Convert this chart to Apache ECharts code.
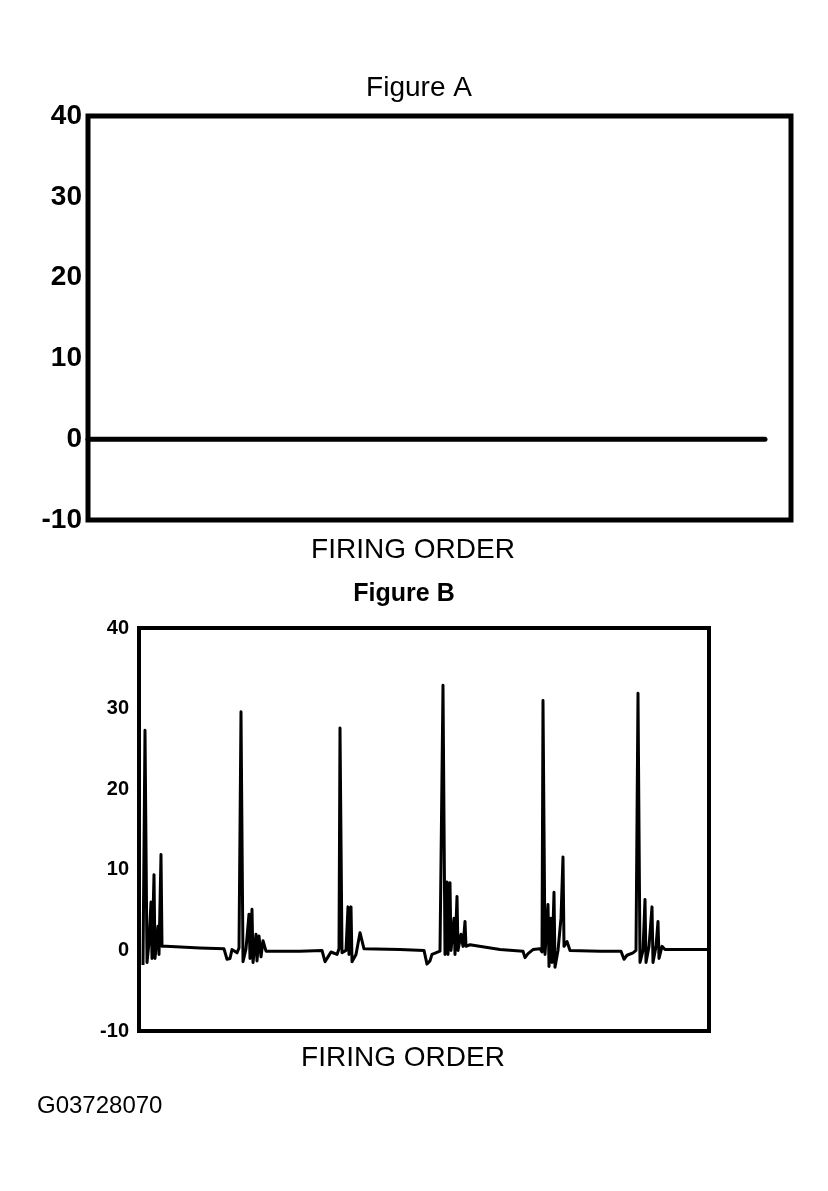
<!DOCTYPE html>
<html>
<head>
<meta charset="utf-8">
<script src="https://cdn.jsdelivr.net/npm/echarts@6/dist/echarts.min.js"></script>
<style>
  html, body { margin: 0; padding: 0; background: #fff; }
  #chart { width: 828px; height: 1191px; }
</style>
</head>
<body>
<div id="chart"></div>
<script>
// y axis (kV) ticks shared by both figures
var yTicks = [-10, 0, 10, 20, 30, 40];

// Figure A: flat line at zero across the firing order
var timeA = [0, 96.3];
var voltsA = [0, 0];

// Figure B: secondary ignition trace, time in sample units
var timeB = [4, 6, 8, 10, 12, 13, 15, 16, 19, 20, 22, 23, 27, 61, 85, 88, 91, 93, 98, 100,
    102, 104, 107, 110, 111, 113, 114, 117, 118, 120, 122, 124, 127, 161, 183, 186, 189, 192, 198, 200,
    201, 203, 207, 209, 210, 212, 213, 217, 221, 225, 261, 285, 288, 291, 293, 301, 304, 306, 308, 309,
    311, 312, 315, 316, 318, 319, 322, 324, 326, 327, 331, 361, 384, 386, 389, 394, 401, 403, 404, 406,
    409, 410, 412, 413, 415, 416, 419, 422, 424, 425, 428, 431, 461, 482, 485, 488, 494, 497, 499, 501,
    504, 506, 507, 510, 513, 514, 517, 519, 520, 523, 526, 569];
var voltsB = [-1.8, 27.3, -1.5, 1, 6, -1, 9.4, -1, 3, -0.5, 11.9, 0.5, 0.5, 0.3, 0.2, -1.1, -1.0, 0.1, -0.3, 0.3,
    29.6, -1.4, 0.2, 4.5, -1, 5.1, -1.5, 2, -1.3, 1.8, -0.8, 1.2, -0.1, -0.1, 0, -1.4, -0.8, -0.2, -0.5, 0.2,
    27.6, -0.3, 0, 5.4, -0.5, 5.4, -1.4, -0.5, 2.2, 0.2, 0.1, 0, -1.7, -1.3, -0.5, -0.1, 32.9, -0.5, 8.5, -0.5,
    8.4, 0, 4, -0.5, 6.7, 0, 2, 0.5, 3.6, 0.5, 0.7, 0.1, -0.1, -0.9, -0.4, 0.1, 0.2, -0.2, 31, -0.5,
    5.7, -2, 4, -1.5, 7.2, -2.1, 0, 4, 11.6, 0.5, 1.1, 0, -0.1, -0.1, -1.1, -0.6, -0.3, 0, 31.9, -1.5,
    0, 6.3, -1.5, 0.5, 5.4, -1.5, 0.5, 3.6, -1, 0.5, 0.1, 0.1];

function pairs(xs, ys) {
    var out = [];
    for (var i = 0; i < xs.length; i++) out.push([xs[i], ys[i]]);
    return out;
}

var font = 'Liberation Sans';
var myChart = echarts.init(document.getElementById('chart'));
var option = {
    backgroundColor: '#fff',
    animation: false,
    title: [
        { text: 'Figure A', left: 419, top: 74, textAlign: 'center', padding: 0,
          textStyle: { fontFamily: font, fontSize: 28, fontWeight: 'normal', color: '#000' } },
        { text: 'FIRING ORDER', left: 413, top: 536, textAlign: 'center', padding: 0,
          textStyle: { fontFamily: font, fontSize: 28, fontWeight: 'normal', color: '#000' } },
        { text: 'Figure B', left: 404, top: 582, textAlign: 'center', padding: 0,
          textStyle: { fontFamily: font, fontSize: 25, fontWeight: 'bold', color: '#000' } },
        { text: 'FIRING ORDER', left: 403, top: 1044, textAlign: 'center', padding: 0,
          textStyle: { fontFamily: font, fontSize: 28, fontWeight: 'normal', color: '#000' } },
        { text: 'G03728070', left: 37, top: 1094, padding: 0,
          textStyle: { fontFamily: font, fontSize: 24, fontWeight: 'normal', color: '#000' } }
    ],
    grid: [
        { left: 88, top: 116, width: 703, height: 404, show: true,
          borderColor: '#000', borderWidth: 5, backgroundColor: 'transparent' },
        { left: 139, top: 628, width: 570, height: 403, show: true,
          borderColor: '#000', borderWidth: 4, backgroundColor: 'transparent' }
    ],
    xAxis: [
        { gridIndex: 0, type: 'value', min: 0, max: 100,
          axisLine: { show: false }, axisTick: { show: false },
          axisLabel: { show: false }, splitLine: { show: false } },
        { gridIndex: 1, type: 'value', min: 0, max: 570,
          axisLine: { show: false }, axisTick: { show: false },
          axisLabel: { show: false }, splitLine: { show: false } }
    ],
    yAxis: [
        { gridIndex: 0, type: 'value', min: yTicks[0], max: yTicks[yTicks.length - 1], interval: 10,
          axisLine: { show: false }, axisTick: { show: false }, splitLine: { show: false },
          axisLabel: { margin: 6, fontFamily: font, fontSize: 28, fontWeight: 'bold', color: '#000' } },
        { gridIndex: 1, type: 'value', min: yTicks[0], max: yTicks[yTicks.length - 1], interval: 10,
          axisLine: { show: false }, axisTick: { show: false }, splitLine: { show: false },
          axisLabel: { margin: 10, fontFamily: font, fontSize: 20, fontWeight: 'bold', color: '#000' } }
    ],
    series: [
        {
            name: 'Figure A', type: 'line', xAxisIndex: 0, yAxisIndex: 0,
            showSymbol: false, symbol: 'none',
            lineStyle: { color: '#000', width: 5, cap: 'round' },
            data: pairs(timeA, voltsA)
        },
        {
            name: 'Figure B', type: 'line', xAxisIndex: 1, yAxisIndex: 1,
            showSymbol: false, symbol: 'none',
            lineStyle: { color: '#000', width: 3, join: 'round' },
            data: pairs(timeB, voltsB)
        }
    ]
};
myChart.setOption(option);
</script>
</body>
</html>
